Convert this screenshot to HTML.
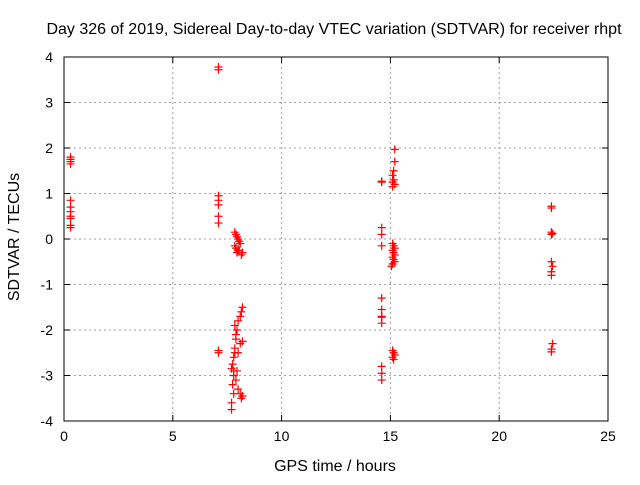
<!DOCTYPE html>
<html><head><meta charset="utf-8"><style>
body{margin:0;background:#fff;}
svg text{font-family:"Liberation Sans",sans-serif;font-size:14px;fill:#000;}
svg text.big{font-size:16px;}
</style></head><body>
<svg id="chart" width="640" height="480">
<text class="big" x="334" y="34" text-anchor="middle">Day 326 of 2019, Sidereal Day-to-day VTEC variation (SDTVAR) for receiver rhpt</text>
<text class="big" x="335" y="471" text-anchor="middle">GPS time / hours</text>
<text class="big" transform="translate(19,237) rotate(-90)" text-anchor="middle">SDTVAR / TECUs</text>
<g id="grid"></g><g id="ticks"></g><g id="pts"></g>
<rect x="64" y="57" width="544" height="364" fill="none" stroke="#000" stroke-width="1"/>
</svg>
<script>
const xTicks=[0,5,10,15,20,25];
const yTicks=[4,3,2,1,0,-1,-2,-3,-4];
const xs=[0.3,0.3,0.3,0.3,0.3,0.3,0.3,0.3,0.3,0.3,0.3,
7.1,7.1,7.1,7.1,7.1,7.1,7.1,7.1,7.1,
7.85,7.9,7.95,8.0,8.05,8.1,7.85,7.9,8.0,8.2,8.15,7.95,8.05,
7.7,7.7,7.8,7.75,7.8,7.7,7.75,7.8,7.85,7.9,7.95,8.0,8.1,8.15,8.2,8.1,8.2,8.0,8.0,8.1,8.2,8.15,7.9,7.95,7.85,7.9,7.8,7.85,
14.6,14.6,14.6,14.6,14.6,14.6,14.6,14.6,14.6,14.6,14.6,14.6,14.6,
15.2,15.2,15.15,15.1,15.15,15.1,15.2,15.1,
15.1,15.15,15.2,15.1,15.15,15.2,15.1,15.15,15.2,15.1,15.05,
15.1,15.15,15.2,15.1,15.15,
22.4,22.4,22.4,22.45,22.4,22.4,22.45,22.4,22.4,22.45,22.4,22.4];
const ys=[1.8,1.75,1.7,1.65,0.85,0.7,0.6,0.5,0.45,0.3,0.25,
3.78,3.72,0.95,0.85,0.75,0.5,0.35,-2.45,-2.5,
0.15,0.1,0.05,0,-0.05,-0.1,-0.15,-0.2,-0.25,-0.3,-0.35,-0.3,-0.25,
-3.75,-3.6,-3.4,-3.2,-3.0,-2.85,-2.75,-2.6,-2.4,-2.2,-2.0,-1.8,-1.7,-1.6,-1.5,-2.3,-2.25,-2.5,-3.3,-3.4,-3.45,-3.5,-3.1,-2.9,-1.9,-2.1,-2.9,-2.5,
1.27,1.25,0.25,0.1,-0.15,-1.3,-1.55,-1.7,-1.72,-1.85,-2.8,-2.95,-3.1,
1.97,1.7,1.5,1.4,1.3,1.25,1.2,1.15,
-0.1,-0.15,-0.2,-0.25,-0.3,-0.35,-0.4,-0.45,-0.5,-0.55,-0.6,
-2.45,-2.5,-2.55,-2.6,-2.65,
0.72,0.68,0.15,0.12,0.1,-0.5,-0.6,-0.72,-0.8,-2.3,-2.42,-2.48];
const NS="http://www.w3.org/2000/svg";
const X=v=>64+v/25*544, Y=v=>57+(4-v)/8*364;
const g=document.getElementById('grid'),t=document.getElementById('ticks'),p=document.getElementById('pts');
function mk(tag,a,par){const e=document.createElementNS(NS,tag);for(const k in a)e.setAttribute(k,a[k]);par.appendChild(e);return e;}
xTicks.forEach(v=>{const x=X(v);
if(v>0&&v<25){const l=mk('line',{x1:x,x2:x,y1:57,y2:421,stroke:'#a0a0a0','stroke-dasharray':'2,3'},g);

}
mk('line',{x1:x,x2:x,y1:421,y2:415,stroke:'#000'},t);mk('line',{x1:x,x2:x,y1:57,y2:63,stroke:'#000'},t);
const tx=mk('text',{x:x,y:441,'text-anchor':'middle'},t);tx.textContent=v;

});
yTicks.forEach(v=>{const y=Y(v);
if(v>-4&&v<4){const l=mk('line',{x1:64,x2:608,y1:y,y2:y,stroke:'#a0a0a0','stroke-dasharray':'2,3'},g);

}
mk('line',{x1:64,x2:70,y1:y,y2:y,stroke:'#000'},t);mk('line',{x1:608,x2:602,y1:y,y2:y,stroke:'#000'},t);
const tx=mk('text',{x:53,y:y+5,'text-anchor':'end'},t);tx.textContent=v;

});
xs.forEach((xv,i)=>{const x=X(xv),y=Y(ys[i]);
const e=mk('path',{d:`M${x-4},${y}H${x+4}M${x},${y-4}V${y+4}`,stroke:'#f00','stroke-width':1.2,fill:'none'},p);

});
</script>
</body></html>
